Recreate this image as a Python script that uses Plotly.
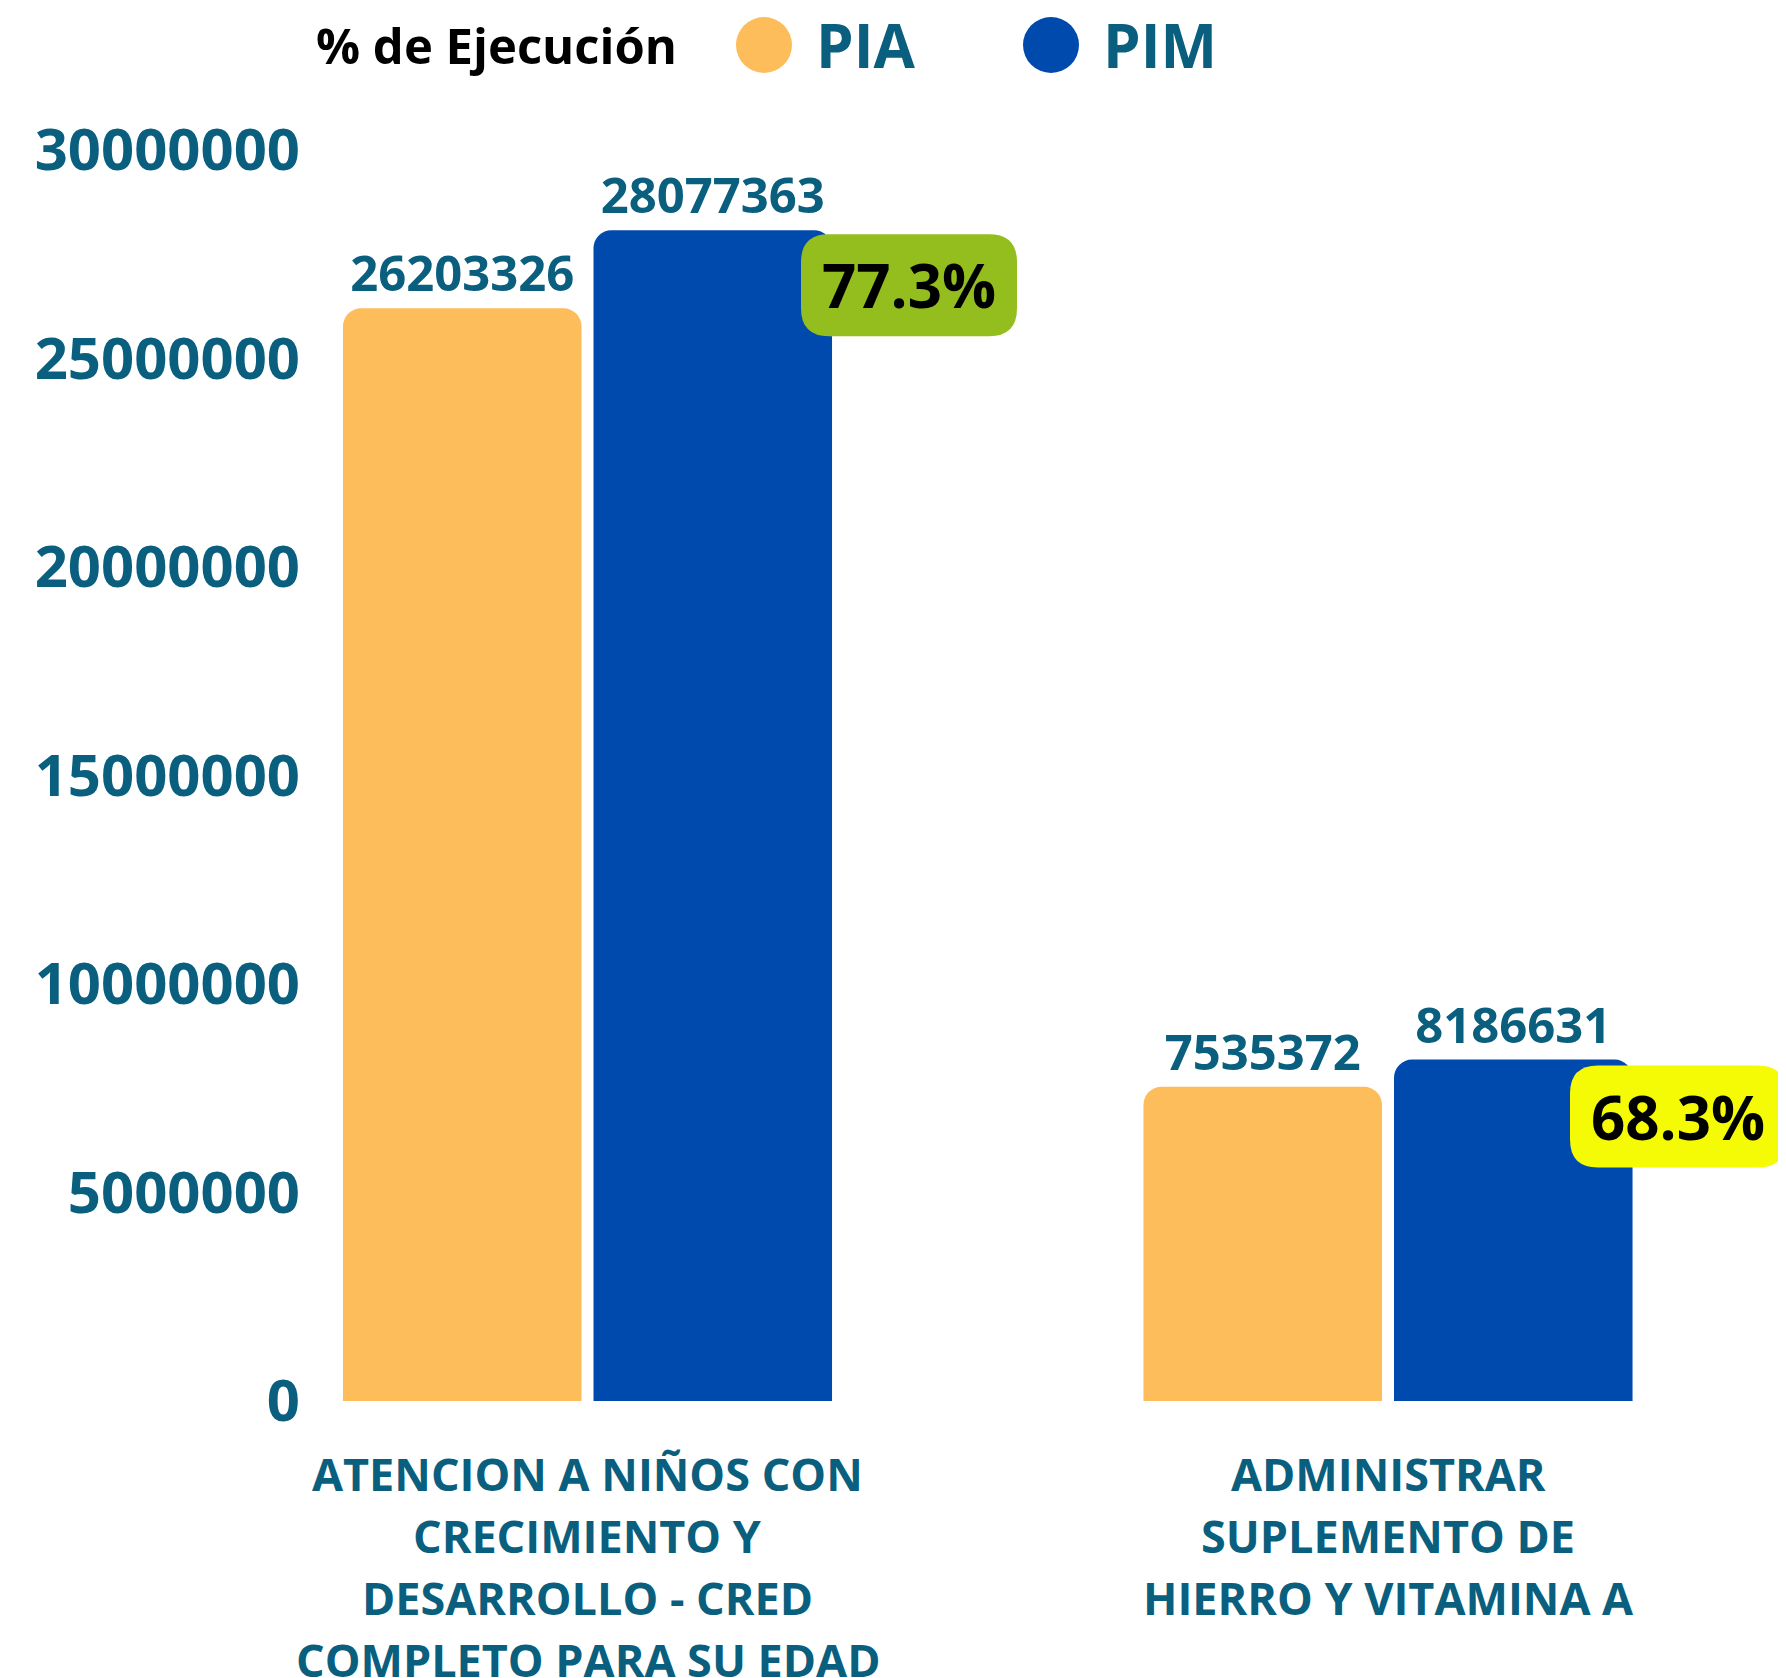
import plotly.graph_objects as go

category_lines = [
    ["ATENCION A NIÑOS CON", "CRECIMIENTO Y", "DESARROLLO - CRED", "COMPLETO PARA SU EDAD"],
    ["ADMINISTRAR", "SUPLEMENTO DE", "HIERRO Y VITAMINA A"],
]
categories = [" ".join(lines) for lines in category_lines]
pia = [26203326, 7535372]
pim = [28077363, 8186631]
pct_ejecucion = [77.3, 68.3]
y_ticks = [0, 5000000, 10000000, 15000000, 20000000, 25000000, 30000000]

ORANGE = "#FDBD5B"
BLUE = "#004AAD"
TEAL = "#0A5F7E"
BADGE_COLORS = ["#93BE1E", "#F5FA05"]
FONT = "Open Sans"

OFF = 8  # page body margin
W, H = 1786, 1678
ML, MR, MT, MB = 297, 0, 142, 285
plot_w = W - ML - MR
plot_h = H - MT - MB
spacing = 800.5
center0 = 587.5 - OFF
x0 = -(center0 - ML) / spacing
x1 = x0 + plot_w / spacing

fig = go.Figure()
for name, vals, col in [("PIA", pia, ORANGE), ("PIM", pim, BLUE)]:
    fig.add_trace(go.Bar(
        x=categories, y=vals, name=name,
        marker=dict(color=col, cornerradius=18, line=dict(width=0)),
        text=[str(v) for v in vals], textposition="outside",
        textfont=dict(family=FONT, size=49, color=TEAL, weight="bold"),
        constraintext="none", cliponaxis=False, showlegend=False,
    ))

# category labels (one annotation per line for the wider line spacing)
for i, lines in enumerate(category_lines):
    for k, line in enumerate(lines):
        fig.add_annotation(x=categories[i], y=0, xref="x", yref="y", text=line,
                           showarrow=False, yanchor="middle", yshift=-(72 + 62 * k),
                           font=dict(family=FONT, size=45, color=TEAL, weight="bold"))

# percentage badges
badge_dx = [321.5, 290]
badge_dy = [-55, -57]
bw, bh, r = 216, 102, 28
for i, (p, c) in enumerate(zip(pct_ejecucion, BADGE_COLORS)):
    cx, cy = badge_dx[i], badge_dy[i]
    l, rr, t, b = cx - bw / 2, cx + bw / 2, cy + bh / 2, cy - bh / 2
    path = (f"M{l + r},{t} L{rr - r},{t} Q{rr},{t} {rr},{t - r} "
            f"L{rr},{b + r} Q{rr},{b} {rr - r},{b} L{l + r},{b} "
            f"Q{l},{b} {l},{b + r} L{l},{t - r} Q{l},{t} {l + r},{t} Z")
    fig.add_shape(type="path", xref="x", yref="y", xsizemode="pixel", ysizemode="pixel",
                  xanchor=i, yanchor=pim[i], path=path, fillcolor=c,
                  line=dict(width=0), layer="above")
    fig.add_annotation(x=i, y=pim[i], xref="x", yref="y", text=f"{p}%",
                       showarrow=False, xshift=cx, yshift=cy,
                       font=dict(family=FONT, size=60, color="black", weight="bold"))

# manual legend
def px2paper_x(px):
    return (px - OFF - ML) / plot_w

def py2paper_y(py):
    return (H - MB - (py - OFF)) / plot_h

ly = py2paper_y(45)
fig.add_annotation(x=px2paper_x(679), y=ly, xref="paper", yref="paper", xanchor="right",
                   yanchor="middle", text="% de Ejecución", showarrow=False,
                   font=dict(family=FONT, size=49, color="black", weight="bold"))
for name, col, cxp, tx in [("PIA", ORANGE, 764, 815), ("PIM", BLUE, 1051, 1102)]:
    fig.add_shape(type="circle", xref="paper", yref="paper", xsizemode="pixel",
                  ysizemode="pixel", xanchor=px2paper_x(cxp), yanchor=ly,
                  x0=-28, x1=28, y0=-28, y1=28, fillcolor=col, line=dict(width=0))
    fig.add_annotation(x=px2paper_x(tx), y=ly, xref="paper", yref="paper", xanchor="left",
                       yanchor="middle", text=name, showarrow=False, borderpad=0,
                       font=dict(family=FONT, size=60, color=TEAL, weight="bold"))

fig.update_layout(
    width=W, height=H, margin=dict(l=ML, r=MR, t=MT, b=MB),
    paper_bgcolor="white", plot_bgcolor="white",
    barmode="group", bargap=0.374, bargroupgap=0.048,
    font=dict(family=FONT, color=TEAL),
)
fig.update_xaxes(range=[x0, x1], showgrid=False, showline=False, zeroline=False,
                 showticklabels=False, ticks="")
fig.update_yaxes(range=[0, 30000000], tickvals=y_ticks, tickformat="d",
                 showgrid=False, showline=False, zeroline=False, ticks="",
                 tickfont=dict(family=FONT, size=58, color=TEAL, weight="bold"),
                 ticklabelstandoff=4)

fig.write_html("out.html")
